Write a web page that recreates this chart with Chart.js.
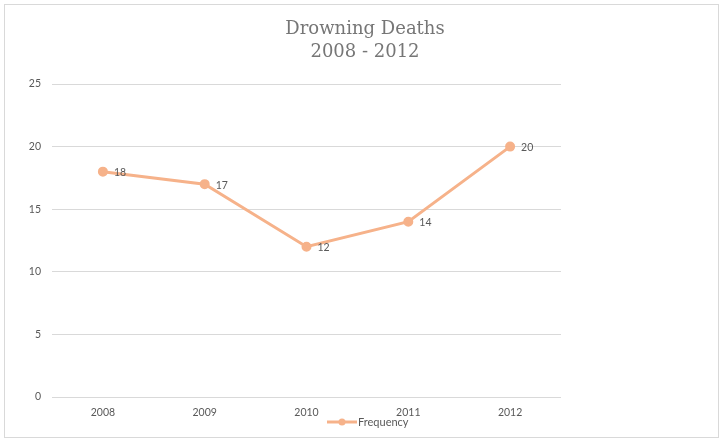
<!DOCTYPE html>
<html lang="en">
<head>
  <meta charset="UTF-8">
  <title>Drowning Deaths 2008 - 2012</title>
  <script src="https://cdn.jsdelivr.net/npm/chart.js"></script>
  <style>
    body {
      margin: 0;
      background: #fff;
    }
    #wrap {
      width: 723px;
      height: 443px;
    }
  </style>
</head>
<body>
  <div id="wrap">
    <canvas id="deathsChart" width="723" height="443"></canvas>
  </div>

  <script>
    const years = ['2008', '2009', '2010', '2011', '2012'];
    const frequency = [18, 17, 12, 14, 20];
    const titleLines = ['Drowning Deaths', '2008 - 2012'];
    const seriesName = 'Frequency';

    const lineColor = '#F6B28A';
    const textColor = '#595959';
    const tickFont = { family: 'Lato, "Open Sans", sans-serif', size: 10.5 };

    // frame, title, legend and point labels
    const extras = {
      id: 'extras',
      beforeDraw(chart) {
        const c = chart.ctx;
        c.save();
        c.strokeStyle = '#d9d9d9';
        c.lineWidth = 1;
        c.strokeRect(4.5, 4.5, 714, 433);
        c.restore();
      },
      afterDraw(chart) {
        const c = chart.ctx;
        c.save();
        c.fillStyle = '#767676';
        c.font = '18px "DejaVu Serif", serif';
        c.textAlign = 'center';
        c.textBaseline = 'middle';
        c.fillText(titleLines[0], 365, 29);
        c.fillText(titleLines[1], 365, 52);

        // data labels
        const meta = chart.getDatasetMeta(0);
        c.font = '10.5px Lato, "Open Sans", sans-serif';
        c.fillStyle = textColor;
        c.textAlign = 'left';
        meta.data.forEach((pt, i) => {
          c.fillText(String(frequency[i]), pt.x + 11, pt.y + 1);
        });

        // legend
        c.strokeStyle = lineColor;
        c.lineWidth = 3;
        c.beginPath();
        c.moveTo(327, 422);
        c.lineTo(357, 422);
        c.stroke();
        c.fillStyle = lineColor;
        c.beginPath();
        c.arc(342, 422, 3.5, 0, Math.PI * 2);
        c.fill();
        c.fillStyle = textColor;
        c.font = '11px Lato, "Open Sans", sans-serif';
        c.fillText(seriesName, 358, 422);
        c.restore();
      }
    };

    new Chart(document.getElementById('deathsChart'), {
      type: 'line',
      data: {
        labels: years,
        datasets: [{
          label: seriesName,
          data: frequency,
          borderColor: lineColor,
          backgroundColor: lineColor,
          borderWidth: 3,
          pointRadius: 3.5,
          pointHoverRadius: 3.5,
          tension: 0
        }]
      },
      options: {
        responsive: false,
        animation: false,
        layout: { padding: { left: 0, right: 162, top: 84, bottom: 0 } },
        plugins: {
          legend: { display: false },
          title: { display: false },
          tooltip: { enabled: false }
        },
        scales: {
          x: {
            offset: true,
            grid: { display: false },
            border: { display: false },
            ticks: { color: textColor, font: tickFont, padding: 1, maxRotation: 0 },
            afterFit(s) { s.height = 46; }
          },
          y: {
            min: 0,
            max: 25,
            grid: { color: '#d9d9d9', drawTicks: false },
            border: { display: false },
            ticks: { stepSize: 5, color: textColor, font: tickFont, padding: 11 },
            afterFit(s) { s.width = 52; }
          }
        }
      },
      plugins: [extras]
    });
  </script>
</body>
</html>
